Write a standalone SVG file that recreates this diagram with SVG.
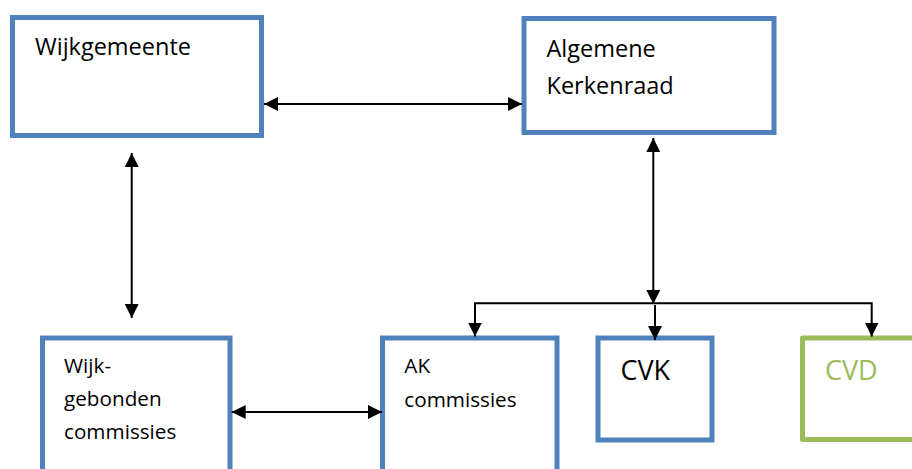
<svg xmlns="http://www.w3.org/2000/svg" width="912" height="469" viewBox="0 0 912 469">
  <style>
    .box { fill: #ffffff; stroke: #4F81BD; stroke-width: 5; }
    .green { fill: #ffffff; stroke: #9BBB59; stroke-width: 5; stroke-linejoin: round; }
    .conn { fill: none; stroke: #000000; stroke-width: 2; }
    .t { font-family: "Open Sans", "Liberation Sans", sans-serif; fill: #000000; }
    .big { font-size: 23.5px; }
    .small { font-size: 20.7px; }
    .huge { font-size: 27px; }
  </style>
  <defs>
    <marker id="ah" markerUnits="userSpaceOnUse" markerWidth="14" markerHeight="14" refX="13" refY="6.5" orient="auto-start-reverse" viewBox="0 0 13 13">
      <path d="M0,0 L13,6.5 L0,13 Z" fill="#000000"/>
    </marker>
  </defs>
  <rect width="912" height="469" fill="#ffffff"/>

  <g id="wijkgemeente">
    <rect class="box" x="12.5" y="17.5" width="249" height="118"/>
    <text class="t big" x="35" y="55">Wijkgemeente</text>
  </g>

  <g id="algemene-kerkenraad">
    <rect class="box" x="524" y="18.5" width="250" height="114"/>
    <text class="t big" x="546.5" y="57">Algemene</text>
    <text class="t big" x="546.5" y="94">Kerkenraad</text>
  </g>

  <g id="wijkgebonden-commissies">
    <rect class="box" x="42.5" y="338" width="187.5" height="140"/>
    <text class="t small" x="64" y="372.7">Wijk-</text>
    <text class="t small" x="64" y="406">gebonden</text>
    <text class="t small" x="64" y="439.3">commissies</text>
  </g>

  <g id="ak-commissies">
    <rect class="box" x="382.5" y="338" width="174.5" height="140"/>
    <text class="t small" x="404.3" y="373.3">AK</text>
    <text class="t small" x="404.3" y="406.7">commissies</text>
  </g>

  <g id="cvk">
    <rect class="box" x="598" y="338" width="114" height="102"/>
    <text class="t huge" x="620.5" y="380">CVK</text>
  </g>

  <g id="cvd">
    <rect class="green" x="802.5" y="338" width="140" height="101.5"/>
    <text class="t huge" x="825" y="380" fill="#9BBB59" style="fill:#9BBB59">CVD</text>
  </g>

  <g id="connectors">
    <line class="conn" x1="264" y1="104" x2="522" y2="104" marker-start="url(#ah)" marker-end="url(#ah)"/>
    <line class="conn" x1="131.7" y1="153" x2="131.7" y2="318" marker-start="url(#ah)" marker-end="url(#ah)"/>
    <line class="conn" x1="653.3" y1="138" x2="653.3" y2="304" marker-start="url(#ah)" marker-end="url(#ah)"/>
    <polyline class="conn" points="475,336.5 475,303.3 871.7,303.3 871.7,336.5" marker-start="url(#ah)" marker-end="url(#ah)"/>
    <line class="conn" x1="655" y1="305" x2="655" y2="340" marker-end="url(#ah)"/>
    <line class="conn" x1="231.7" y1="412" x2="382" y2="412" marker-start="url(#ah)" marker-end="url(#ah)"/>
  </g>
</svg>
